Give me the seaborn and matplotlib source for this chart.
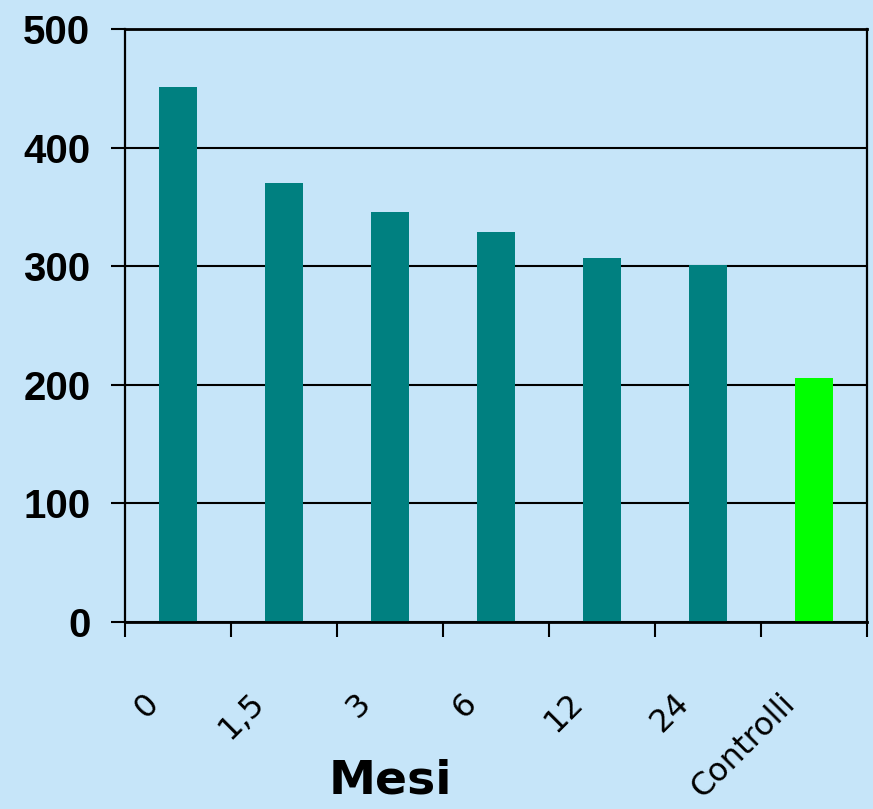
import matplotlib
matplotlib.use("Agg")
import matplotlib.pyplot as plt
import matplotlib.transforms as mtransforms
import numpy as np
import pandas as pd
import seaborn as sns

# Months after treatment and the measured values (plus the control group)
mesi = ["0", "1,5", "3", "6", "12", "24", "Controlli"]
valori = [451, 370, 346, 329, 307, 301, 206]
colori = ["#008080", "#008080", "#008080", "#008080", "#008080", "#008080", "#00FF00"]
y_ticks = [0, 100, 200, 300, 400, 500]

sns.set_theme(style="white")
plt.rcParams["font.family"] = ["DejaVu Sans"]

bg = "#C6E5F9"
fig = plt.figure(figsize=(8.73, 8.09), dpi=100, facecolor=bg)
ax = fig.add_axes([125 / 873, 1 - 622 / 809, (867 - 125) / 873, (622 - 29) / 809])
ax.set_facecolor(bg)

df = pd.DataFrame({"Mesi": mesi, "Valore": valori})
sns.barplot(data=df, x="Mesi", y="Valore", hue="Mesi", palette=colori,
            legend=False, width=0.35, saturation=1, edgecolor="none", ax=ax)

ax.set_xlim(-0.5, len(mesi) - 0.5)
ax.set_ylim(0, 500)
ax.set_xlabel("")
ax.set_ylabel("")

# Horizontal grid behind the bars
ax.set_axisbelow(True)
ax.set_yticks(y_ticks)
ax.yaxis.grid(True, color="black", linewidth=1.5)
ax.xaxis.grid(False)

for side in ["left", "right", "top", "bottom"]:
    ax.spines[side].set_visible(True)
    ax.spines[side].set_color("black")
    ax.spines[side].set_linewidth(1.6)
ax.spines["bottom"].set_linewidth(2)
ax.spines["top"].set_linewidth(2)

# Y axis: bold numbers, outward ticks
ax.tick_params(axis="y", which="major", direction="out", length=10, width=1.5,
               color="black", pad=15, left=True)
for lbl in ax.get_yticklabels():
    lbl.set_fontfamily(["Liberation Sans", "DejaVu Sans"])
    lbl.set_fontweight("bold")
    lbl.set_fontsize(29)
    lbl.set_color("black")

# X axis: ticks on category boundaries, rotated labels under each category
ax.set_xticks(np.arange(len(mesi)))
ax.set_xticks(np.arange(len(mesi) + 1) - 0.5, minor=True)
ax.set_xticklabels(mesi, rotation=45, ha="right", va="center",
                   rotation_mode="anchor", fontsize=23, color="black")
ax.tick_params(axis="x", which="major", length=0, pad=55)
ax.tick_params(axis="x", which="minor", direction="out", length=11, width=1.5,
               color="black", bottom=True)
shift = mtransforms.ScaledTranslation(-24 / 100, 0, fig.dpi_scale_trans)
for lbl in ax.get_xticklabels():
    lbl.set_transform(lbl.get_transform() + shift)

fig.text(390 / 873, 1 - 781 / 809, "Mesi", ha="center", va="center",
         fontsize=34, fontweight="bold", color="black")

fig.savefig("out.png", dpi=100, facecolor=bg)
